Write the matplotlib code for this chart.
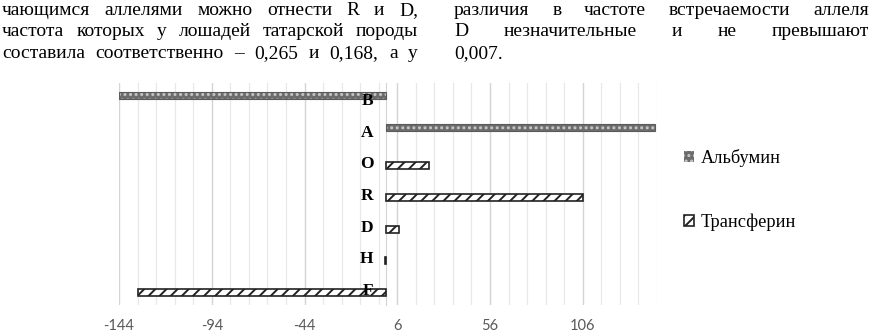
import matplotlib
matplotlib.use("Agg")
import matplotlib.pyplot as plt
import numpy as np
from matplotlib.ticker import FixedLocator

categories = ['B', 'A', 'O', 'R', 'D', 'H', 'F']
albumin = [-144, 145, 0, 0, 0, 0, 0]
transferrin = [0, 0, 23, 106, 7, -0.8, -134]
series_names = ['Альбумин', 'Трансферин']
major_ticks = [-144, -94, -44, 6, 56, 106]

left_lines = ["чающимся аллелями можно отнести R и D,",
              "частота которых у лошадей татарской породы",
              "составила соответственно – 0,265 и 0,168, а у"]
right_lines = ["различия в частоте встречаемости аллеля",
               "D незначительные и не превышают",
               "0,007."]

W, H = 874, 332
plt.rcParams['hatch.linewidth'] = 1.4
plt.rcParams['axes.unicode_minus'] = False
fig = plt.figure(figsize=(W / 100, H / 100), dpi=100)

# ---- paragraph text (justified) ----
serif = 'Liberation Serif'
fs_text = 14.0
renderer = fig.canvas.get_renderer()
baselines = [15, 36.5, 58]


def put_line(line, x0, x1, yb, justify):
    words = line.split(' ')
    texts = [fig.text(0, 1 - yb / H, w, family=serif, fontsize=fs_text,
                      va='baseline', ha='left') for w in words]
    widths = [t.get_window_extent(renderer).width for t in texts]
    if justify and len(words) > 1:
        gap = (x1 - x0 - sum(widths)) / (len(words) - 1)
    else:
        gap = 4.0
    x = x0
    for t, w in zip(texts, widths):
        t.set_x(x / W)
        x += w + gap


for i, ln in enumerate(left_lines):
    put_line(ln, 2, 418, baselines[i], True)
for i, ln in enumerate(right_lines):
    put_line(ln, 454, 869, baselines[i], i < 2)

# ---- chart ----
ax = fig.add_axes([119 / W, 1 - 305 / H, (657 - 119) / W, (305 - 83) / H])
y = np.arange(len(categories))
h = 0.22
alb = np.array(albumin, dtype=float)
tra = np.array(transferrin, dtype=float)
ma = alb != 0
mt = tra != 0

ax.barh(y[ma] - h / 2, alb[ma], height=h, color='#6c6c6c', edgecolor='#c8c8c8',
        hatch='...', linewidth=0, zorder=3, label=series_names[0])
ax.barh(y[ma] - h / 2, alb[ma], height=h, fill=False, edgecolor='#5a5a5a',
        linewidth=0.8, zorder=4)
ax.barh(y[mt] + h / 2, tra[mt], height=h, color='white', edgecolor='#222222',
        hatch='///', linewidth=1.2, zorder=3, label=series_names[1])

ax.set_xlim(-144, 146)
ax.set_ylim(len(categories) - 0.5, -0.5)
ax.xaxis.set_major_locator(FixedLocator(major_ticks))
ax.xaxis.set_minor_locator(FixedLocator(list(range(-144, 147, 10))))
ax.grid(True, axis='x', which='major', color='#d4d4d4', linewidth=1.0, zorder=0)
ax.grid(True, axis='x', which='minor', color='#e8e8e8', linewidth=0.9, zorder=0)
ax.tick_params(axis='x', which='both', length=0, pad=10, labelsize=10.5,
               labelcolor='#595959')
for lab in ax.get_xticklabels():
    lab.set_family('Lato')

for s in ['top', 'right', 'bottom']:
    ax.spines[s].set_visible(False)
ax.spines['left'].set_position(('data', 0))
ax.spines['left'].set_color('#d4d4d4')
ax.set_axisbelow(True)

ax.set_yticks(y)
ax.set_yticklabels(categories, family=serif, fontweight='bold', fontsize=12.5)
ax.tick_params(axis='y', length=0, pad=9)
ax.yaxis.set_zorder(6)

leg = fig.legend(loc='upper left', bbox_to_anchor=(684 / W, 1 - 149 / H),
                 frameon=False, prop={'family': serif, 'size': 13.2},
                 handlelength=0.55, handleheight=0.55, handletextpad=0.35,
                 labelspacing=2.55, borderaxespad=0, borderpad=0)

fig.savefig('out.png', dpi=100)
